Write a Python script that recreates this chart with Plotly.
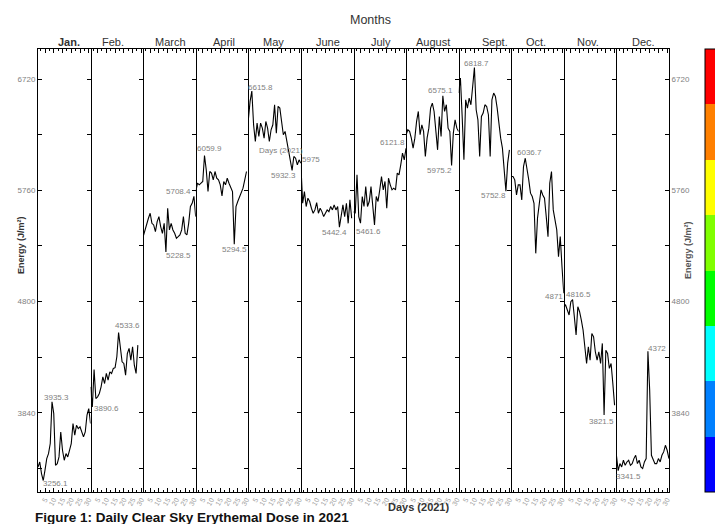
import plotly.graph_objects as go

# ---------------- data ----------------
month_names = ["Jan.", "Feb.", "March", "April", "May", "June",
               "July", "August", "Sept.", "Oct.", "Nov.", "Dec."]

jan = [3373, 3416, 3316, 3256.1, 3345, 3445, 3488, 3575, 3935.3, 3834, 3387, 3402, 3460, 3675, 3517, 3431,
       3488, 3460, 3517, 3575, 3748, 3647, 3733, 3704, 3719, 3675, 3632, 3675, 3820, 3877, 3748]
feb = [4064, 3890.6, 4214, 3963, 3978, 4007, 4064, 4151, 4093, 4180, 4122, 4194, 4180, 4223, 4230, 4324,
       4533.6, 4381, 4280, 4266, 4165, 4352, 4396, 4295, 4410, 4251, 4180, 4424]
mar = [5360, 5418, 5461, 5519, 5562, 5475, 5461, 5403, 5490, 5533, 5447, 5389, 5475, 5228.5, 5605, 5418,
       5475, 5418, 5389, 5346, 5360, 5375, 5418, 5533, 5389, 5375, 5475, 5620, 5648, 5708.4, 5533]
apr = [5749, 5821, 5807, 5821, 5836, 6059.9, 5936, 5749, 5922, 5908, 5850, 5922, 5864, 5850, 5807, 5712,
       5836, 5807, 5864, 5821, 5778, 5749, 5294.5, 5620, 5663, 5706, 5735, 5778, 5850, 5922]
may = [6368, 6527, 6615.8, 6325, 6181, 6340, 6224, 6340, 6296, 6210, 6354, 6296, 6181, 6282, 6325, 6498,
       6253, 6484, 6469, 6325, 6239, 6268, 6181, 6095, 6023, 5932.3, 6052, 6037, 5980, 6023, 5994]
jun = [5975, 5648, 5749, 5620, 5692, 5663, 5605, 5562, 5591, 5654, 5562, 5605, 5576, 5533, 5562, 5591,
       5576, 5620, 5591, 5634, 5591, 5620, 5442.4, 5562, 5634, 5533, 5648, 5475, 5677, 5519]
jul = [5576, 5562, 5893, 5533, 5476, 5706, 5620, 5792, 5620, 5663, 5792, 5648, 5461.6, 5706, 5663, 5764,
       5879, 5764, 5836, 5605, 5864, 5807, 5764, 5778, 5764, 5908, 5893, 5980, 6080, 6023, 6121.8]
aug = [6239, 6282, 6268, 6210, 6124, 6210, 6354, 6440, 6239, 6325, 6268, 6052, 6210, 6296, 6469, 6512,
       6440, 6296, 6109, 6397, 6224, 6575.1, 6440, 6498, 6296, 6268, 5975.2, 6253, 6368, 6296, 6268]
sep = [6599, 6728, 6397, 6023, 6541, 6469, 6556, 6498, 6656, 6818.7, 6455, 6368, 6052, 6397, 6426, 6498,
       6483, 6412, 6052, 6541, 6599, 6570, 6469, 6325, 6210, 6124, 5965, 5752.8, 5994, 6109]
oct_ = [5879, 5879, 5850, 5720, 5807, 5807, 5677, 5965, 6036.7, 5951, 5850, 5735, 5706, 5648, 5216, 5519,
        5620, 5764, 5720, 5692, 5533, 5360, 5821, 5922, 5591, 5519, 5418, 5187, 5360, 5101, 4871]
nov = [4756, 4770, 4727, 4684, 4799, 4816.5, 4669, 4511, 4756, 4712, 4640, 4554, 4410, 4266, 4410, 4295,
       4525, 4496, 4367, 4295, 4367, 4266, 4439, 3821.5, 4380, 4352, 4223, 4266, 4093, 3906]
dec = [3474, 3341.5, 3402, 3373, 3431, 3387, 3416, 3431, 3387, 3402, 3445, 3474, 3402, 3431, 3373, 3359,
       3416, 3445, 4372, 4036, 3474, 3431, 3402, 3402, 3445, 3416, 3474, 3503, 3560, 3517, 3445]

series = [jan, feb, mar, apr, may, jun, jul, aug, sep, oct_, nov, dec]

# labelled extreme points: (day, text) per month
label_max_day = [9, 17, 30, 6, 3, 1, 31, 22, 10, 9, 6, 19]
label_max_txt = ["3935.3", "4533.6", "5708.4", "6059.9", "6615.8", "5975",
                 "6121.8", "6575.1", "6818.7", "6036.7", "4816.5", "4372"]
label_min_day = [4, 2, 14, 23, 26, 23, 13, 27, 28, 31, 24, 2]
label_min_txt = ["3256.1", "3890.6", "5228.5", "5294.5", "5932.3", "5442.4",
                 "5461.6", "5975.2", "5752.8", "4871", "3821.5", "3341.5"]

day_ticks = [5, 10, 15, 20, 25, 30]
energy_ticks = [3840, 4800, 5760, 6720]
bar_colors = ["#0000FF", "#0080FF", "#00FFFF", "#00FF00",
              "#80FF00", "#FFFF00", "#FF8000", "#FF0000"]

# ---------------- style ----------------
FONT = "Liberation Sans, Arial, sans-serif"
label_grey = "#7f7f7f"
Y_RANGE = [3157, 6979]
max_shift = [(4, 4), (9, 7), (-15, 5), (5, 7), (9, 4), (10, 6),
             (-14, 6), (-2, 5), (2, 4), (4, 6), (6, 5), (9, 3)]
min_shift = [(12, -3), (14, -2), (13, -4), (0, -5), (-9, -5), (-5, -5),
             (-6, -7), (-12, -5), (-12, -4), (-10, -3), (-3, -7), (10, -6)]
month_label_x = [69, 113, 170, 224, 273.5, 328, 381, 433.5, 495, 536, 588, 643.5]

L, R, T, B = 38, 46, 49, 32
W, H = 715, 524
PW, PH = W - L - R, H - T - B


def px(xp):
    return (xp - L) / PW


def py(yp):
    return (H - B - yp) / PH


fig = go.Figure()
layout = dict()
annotations = []

for k, vals in enumerate(series):
    xn = "x" if k == 0 else f"x{k+1}"
    yn = "y" if k == 0 else f"y{k+1}"
    days = list(range(1, len(vals) + 1))
    fig.add_trace(go.Scatter(x=days, y=vals, mode="lines",
                             line=dict(color="black", width=1.1),
                             xaxis=xn, yaxis=yn, showlegend=False, hoverinfo="skip"))

    xa = dict(domain=[k / 12, (k + 1) / 12], range=[1, 31.05], anchor=yn,
              showline=True, linecolor="black", linewidth=1, mirror="ticks",
              ticks="inside", ticklen=4, tickcolor="black", tickwidth=1,
              tickmode="array", tickvals=day_ticks, ticktext=[str(d) for d in day_ticks],
              tickangle=-60, tickfont=dict(size=7, color="#a0a0a0", family=FONT),
              minor=dict(tickmode="linear", tick0=0, dtick=2.5, ticks="inside",
                         ticklen=2, tickcolor="black", showgrid=False),
              showgrid=False, zeroline=False)
    ya = dict(domain=[0, 1], range=Y_RANGE, anchor=xn,
              showline=True, linecolor="black", linewidth=1,
              ticks="inside", ticklen=4, tickcolor="black", tickwidth=1,
              tickmode="array", tickvals=energy_ticks,
              minor=dict(tickmode="linear", tick0=3840, dtick=480, ticks="inside",
                         ticklen=4, tickcolor="black", showgrid=False),
              tickfont=dict(size=8, color=label_grey, family=FONT),
              showgrid=False, zeroline=False)
    if k == 0:
        ya.update(side="left", mirror="ticks", showticklabels=True)
    elif k == 11:
        ya.update(side="right", showticklabels=True)
    else:
        ya.update(side="right", showticklabels=False)
    layout["xaxis" if k == 0 else f"xaxis{k+1}"] = xa
    layout["yaxis" if k == 0 else f"yaxis{k+1}"] = ya

    # value labels
    for dlist, tlist, shifts in ((label_max_day, label_max_txt, max_shift),
                                 (label_min_day, label_min_txt, min_shift)):
        d = dlist[k]
        annotations.append(dict(x=d, y=vals[d - 1], xref=xn, yref=yn, text=tlist[k],
                                showarrow=False, xanchor="center", yanchor="middle",
                                xshift=shifts[k][0], yshift=shifts[k][1],
                                font=dict(size=8, color=label_grey, family=FONT)))

    # month header
    annotations.append(dict(x=px(month_label_x[k]), y=py(42), xref="paper", yref="paper",
                            text=("<b>%s</b>" % month_names[k]) if k == 0 else month_names[k],
                            showarrow=False, xanchor="center", yanchor="middle",
                            font=dict(size=11, color="#333333", family=FONT)))

# colour bar (discrete)
cs = []
n = len(bar_colors)
for i, c in enumerate(bar_colors):
    cs.append([i / n, c])
    cs.append([(i + 1) / n, c])
fig.add_trace(go.Scatter(x=[None], y=[None], mode="markers", showlegend=False, hoverinfo="skip",
                         marker=dict(color=[0], cmin=0, cmax=n, colorscale=cs, showscale=True,
                                     colorbar=dict(x=px(704.5), xanchor="left", xref="paper",
                                                   y=0.5, yanchor="middle", len=1, lenmode="fraction",
                                                   thickness=12, outlinecolor="black", outlinewidth=1,
                                                   showticklabels=False, ticks="", xpad=0, ypad=0))))

annotations += [
    dict(x=px(370), y=py(20), xref="paper", yref="paper", text="Months", showarrow=False,
         xanchor="center", yanchor="middle",
         font=dict(size=12.5, color="#333333", family=FONT)),
    dict(x=px(21), y=py(245), xref="paper", yref="paper", text="<b>Energy (J/m²)</b>",
         xanchor="center", yanchor="middle",
         textangle=-90, showarrow=False, font=dict(size=9, color="#333333", family=FONT)),
    dict(x=px(688), y=py(250), xref="paper", yref="paper", text="<b>Energy (J/m²)</b>",
         xanchor="center", yanchor="middle",
         textangle=-90, showarrow=False, font=dict(size=9, color="#555555", family=FONT)),
    dict(x=px(418.5), y=py(507), xref="paper", yref="paper", text="<b>Days (2021)</b>",
         xanchor="center", yanchor="middle",
         showarrow=False, font=dict(size=11, color="#333333", family=FONT)),
    dict(x=px(280.5), y=py(150), xref="paper", yref="paper", text="Days (2021)",
         xanchor="center", yanchor="middle",
         showarrow=False, font=dict(size=8, color=label_grey, family=FONT)),
    dict(x=px(33), y=py(517), xref="paper", yref="paper", xanchor="left", yanchor="middle",
         text="<b>Figure 1: Daily Clear Sky Erythemal Dose in 2021</b>",
         showarrow=False, font=dict(size=13.5, color="#111111", family=FONT)),
]

fig.update_layout(**layout)
fig.update_layout(width=W, height=H, margin=dict(l=L, r=R, t=T, b=B, autoexpand=False),
                  paper_bgcolor="white", plot_bgcolor="white",
                  font=dict(family=FONT), annotations=annotations, showlegend=False)

fig.write_html("out.html", config={"displayModeBar": False},
               post_script="document.body.style.margin='0';document.body.style.overflow='hidden';")
